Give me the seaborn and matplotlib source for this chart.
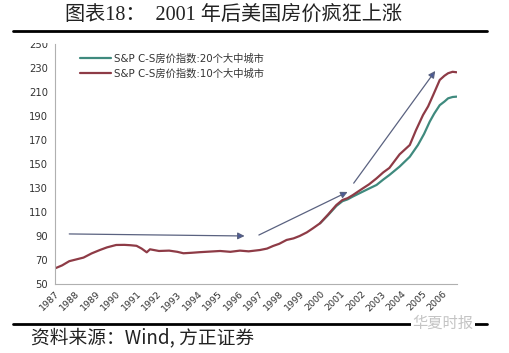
import matplotlib
matplotlib.use('Agg')
import matplotlib.pyplot as plt
import seaborn as sns
import pandas as pd

# S&P Case-Shiller 10-city index (fractional year, value)
years_10 = [1987.0, 1987.35, 1987.7, 1988.05, 1988.4, 1988.8, 1989.2, 1989.55,
            1990.0, 1990.4, 1990.7, 1991.0, 1991.25, 1991.5, 1991.66, 1992.1,
            1992.6, 1993.0, 1993.3, 1993.7, 1994.1, 1994.6, 1995.1, 1995.6,
            1996.07, 1996.5, 1997.05, 1997.4, 1997.7, 1998.0, 1998.36, 1998.7,
            1999.0, 1999.35, 1999.65, 2000.0, 2000.4, 2000.8, 2001.1, 2001.35,
            2001.6, 2002.1, 2002.4, 2002.77, 2003.1, 2003.4, 2003.9, 2004.4,
            2004.7, 2005.05, 2005.3, 2005.55, 2005.87, 2006.1, 2006.28, 2006.5, 2006.7]
index_10 = [63.0, 65.5, 69.0, 70.5, 72.0, 75.5, 78.3, 80.5,
            82.5, 82.6, 82.3, 81.8, 79.5, 76.4, 78.9, 77.5,
            77.8, 76.8, 75.6, 76.0, 76.5, 77.0, 77.5, 76.8,
            77.8, 77.2, 78.3, 79.5, 81.7, 83.5, 86.7, 88.0,
            90.0, 93.0, 96.4, 100.6, 108.0, 115.8, 120.0, 121.5,
            124.0, 129.7, 133.0, 138.0, 143.0, 146.7, 158.0, 165.8,
            178.0, 190.8, 198.0, 207.5, 220.0, 223.5, 225.6, 226.8, 226.4]

# S&P Case-Shiller 20-city index
years_20 = [2000.0, 2000.4, 2000.8, 2001.1, 2001.35, 2001.6, 2002.1, 2002.4,
            2002.77, 2003.1, 2003.4, 2003.9, 2004.4, 2004.8, 2005.1, 2005.38,
            2005.6, 2005.87, 2006.1, 2006.28, 2006.5, 2006.7]
index_20 = [100.6, 107.5, 115.0, 119.0, 120.5, 122.8, 127.0, 129.5,
            132.5, 137.0, 140.8, 147.8, 156.0, 165.8, 175.0, 185.3,
            192.0, 199.0, 202.0, 204.7, 205.8, 206.1]

label_20 = 'S&P C-S房价指数:20个大中城市'
label_10 = 'S&P C-S房价指数:10个大中城市'
year_ticks = list(range(1987, 2007))
y_ticks = list(range(50, 251, 20))

# arrows (start year, start value, end year, end value)
arrow_x0 = [1987.7, 1997.0, 2001.65]
arrow_y0 = [91.7, 90.8, 134.0]
arrow_x1 = [1996.3, 2001.35, 2005.65]
arrow_y1 = [90.0, 126.7, 227.5]

col_20 = '#3f8a7e'
col_10 = '#8e3b46'

sns.set_theme(style='white')
plt.rcParams['font.family'] = ['DejaVu Sans', 'Noto Sans CJK SC']

fig = plt.figure(figsize=(5.09, 3.53), dpi=100)
ax = fig.add_axes([0.108, 0.1955, 0.79, 0.68])

df20 = pd.DataFrame({'year': years_20, 'value': index_20})
df10 = pd.DataFrame({'year': years_10, 'value': index_10})
sns.lineplot(data=df20, x='year', y='value', ax=ax, color=col_20, lw=1.6, label=label_20)
sns.lineplot(data=df10, x='year', y='value', ax=ax, color=col_10, lw=1.6, label=label_10)

for x0, y0, x1, y1 in zip(arrow_x0, arrow_y0, arrow_x1, arrow_y1):
    ax.annotate('', xy=(x1, y1), xytext=(x0, y0),
                arrowprops=dict(arrowstyle='-|>', color='#5a6280', lw=0.9,
                                mutation_scale=10, shrinkA=0, shrinkB=0,
                                fc='#4a5a9a'))

ax.set_xlim(1987, 2006.72)
ax.set_ylim(50, 250)
ax.set_xticks(year_ticks)
ax.set_xticklabels([str(y) for y in year_ticks], rotation=45, ha='right',
                   rotation_mode='anchor', fontsize=6.8, color='#333333')
ax.set_yticks(y_ticks)
ax.set_yticklabels([str(v) for v in y_ticks], fontsize=7.2, color='#333333')
ax.set_xlabel('')
ax.set_ylabel('')
for side in ['top', 'right']:
    ax.spines[side].set_visible(False)
for side in ['left', 'bottom']:
    ax.spines[side].set_color('#b0b0b0')
    ax.spines[side].set_linewidth(0.8)
ax.tick_params(axis='both', which='both', direction='out', length=3, width=0.6,
               color='#b0b0b0', pad=2)
ax.tick_params(axis='x', pad=1)

leg = ax.legend(loc='upper left', bbox_to_anchor=(0.04, 1.0), frameon=False,
                fontsize=7.4, handlelength=3.0, handletextpad=0.3, labelspacing=0.45)
for t in leg.get_texts():
    t.set_color('#333333')

# the chart picture is cropped just above the top tick label
fig.add_artist(plt.Rectangle((0.0, 0.879), 0.2, 0.03, transform=fig.transFigure,
                             facecolor='white', edgecolor='none', zorder=5))

# header, rules and source line
fig.text(0.128, 0.958, '图表18：  2001 年后美国房价疯狂上涨', fontsize=14.5,
         family=['Liberation Serif', 'Noto Sans CJK SC'], va='center', ha='left', color='#222222')
fig.add_artist(plt.Line2D([0.026, 0.957], [0.913, 0.913], color='black', lw=2.0, zorder=6))
fig.add_artist(plt.Line2D([0.026, 0.957], [0.083, 0.083], color='black', lw=2.0))
fig.text(0.06, 0.042, '资料来源：Wind, 方正证券', fontsize=13.5, style='italic',
         family=['Noto Sans CJK SC', 'DejaVu Sans'], va='center', ha='left', color='#222222')
fig.text(0.93, 0.083, '华夏时报', fontsize=11, family=['Noto Sans CJK SC'],
         va='center', ha='right', color='#c4c4c4',
         bbox=dict(facecolor='white', edgecolor='none', pad=1.0))

fig.savefig('out.png', dpi=100, facecolor='white')
